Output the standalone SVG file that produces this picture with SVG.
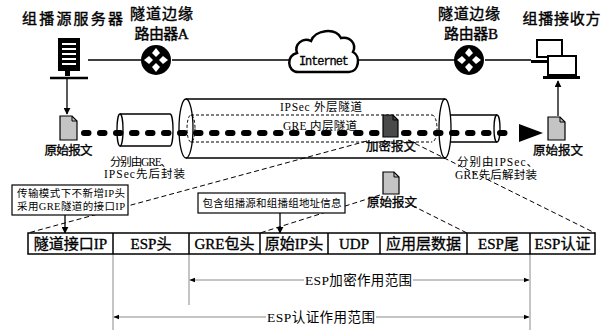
<svg xmlns="http://www.w3.org/2000/svg" width="602" height="330" viewBox="0 0 602 330">
  <defs>
    <style>
      .t { font-family: "Liberation Serif", "Noto Sans CJK SC", serif; fill: #000; }
      .hd { font-size: 15px; stroke: #000; stroke-width: 0.4; }
      .lb { font-size: 11.5px; }
      .doclb { font-size: 12.5px; stroke: #000; stroke-width: 0.35; }
      .cell { font-size: 15px; stroke: #000; stroke-width: 0.35; }
      .note { font-size: 10.5px; }
      .rng { font-size: 13.5px; }
      .mono { font-family: "Liberation Mono", monospace; font-size: 12px; fill: #000; stroke: #000; stroke-width: 0.3; }
      .ln { stroke: #000; stroke-width: 1.3; fill: none; }
      .guide { stroke: #000; stroke-width: 1; stroke-dasharray: 5 3; fill: none; }
      .tube { stroke: #000; stroke-width: 1.3; fill: none; }
      .inner { stroke: #000; stroke-width: 1; stroke-dasharray: 3 2; fill: none; }
      .doc { fill: #c4c4c4; stroke: #000; stroke-width: 1.2; }
      .docd { fill: #4a4a4a; stroke: #000; stroke-width: 1.2; }
      .box { fill: #fff; stroke: #000; stroke-width: 1.2; }
      .grey { stroke: #8a8a8a; stroke-width: 1; fill: none; }
    </style>
    <marker id="ah" viewBox="0 0 10 10" refX="9" refY="5" markerWidth="7" markerHeight="7" markerUnits="userSpaceOnUse" orient="auto">
      <path d="M0 0 L10 5 L0 10 Z" fill="#000"/>
    </marker>
    <marker id="ahs" viewBox="0 0 10 10" refX="9" refY="5" markerWidth="6" markerHeight="6" markerUnits="userSpaceOnUse" orient="auto-start-reverse">
      <path d="M0 1 L10 5 L0 9 Z" fill="#000"/>
    </marker>
    <g id="router">
      <circle r="15" fill="#000"/>
      <path d="M0 -12 L4 -7 L0 -3 L-4 -7 Z M0 12 L4 7 L0 3 L-4 7 Z M-12 0 L-7 4 L-3 0 L-7 -4 Z M12 0 L7 4 L3 0 L7 -4 Z" fill="#fff"/>
    </g>
  </defs>

  <rect width="602" height="330" fill="#fff"/>

  <!-- tunnels -->
  <g id="tunnels">
    <!-- GRE encapsulation segment, left -->
    <path class="tube" d="M120 114 H170 M120 146 H170 M170 114 A3 16 0 0 1 170 146"/>
    <ellipse class="tube" cx="120" cy="130" rx="3" ry="16" fill="#fff"/>
    <!-- IPSec outer tunnel -->
    <path class="tube" d="M186 99 H445 M186 158 H445"/>
    <ellipse class="tube" cx="186" cy="128.5" rx="7" ry="29.5"/>
    <ellipse class="tube" cx="445" cy="128.5" rx="6" ry="29.5"/>
    <!-- GRE inner tunnel -->
    <path class="inner" d="M191 115 H432 M191 142 H432 M432 115 A5 13.5 0 0 1 432 142"/>
    <ellipse class="inner" cx="191" cy="128.5" rx="4" ry="13.5"/>
    <!-- decapsulation segment, right -->
    <path class="tube" d="M450 115 H497 M450 142 H497"/>
    <ellipse class="tube" cx="497" cy="128.5" rx="3" ry="13.5"/>
    <text class="t lb" x="321" y="111" text-anchor="middle" textLength="82">IPSec 外层隧道</text>
    <text class="t lb" x="320" y="130" text-anchor="middle" textLength="74">GRE 内层隧道</text>
  </g>

  <!-- connectors -->
  <g id="connectors">
    <path class="ln" d="M88 60 H141 M172 60 H289 M358 60 H454 M485 60 H531"/>
    <path class="ln" d="M67 79 V114" marker-end="url(#ah)"/>
    <path class="ln" d="M558 116 V81" marker-end="url(#ah)"/>
    <!-- packet flow -->
    <path d="M84 133 H514" stroke="#000" stroke-width="6" stroke-dasharray="4.5 11.5" stroke-linecap="round" fill="none"/>
    <path d="M519 124 L543 133 L519 142 Z" fill="#000"/>
    <!-- guide lines to packet layout -->
    <path class="guide" d="M367 141 L28 233"/>
    <path class="guide" d="M408 140 L595 233"/>
    <path class="guide" d="M380 195 L260 233"/>
    <path class="guide" d="M405 202 L467 233"/>
    <path class="ln" d="M65 215 V233" marker-end="url(#ah)"/>
    <path class="ln" d="M280 213 V233" marker-end="url(#ah)"/>
    <!-- ranges -->
    <path class="grey" d="M189 254 V305 M113 254 V330 M530 254 V330"/>
    <path class="grey" d="M190 280 H529" marker-start="url(#ahs)" marker-end="url(#ahs)"/>
    <path class="grey" d="M114 317 H529" marker-start="url(#ahs)" marker-end="url(#ahs)"/>
  </g>

  <!-- multicast source server -->
  <g id="server">
    <rect x="58" y="38" width="22" height="33" fill="#000"/>
    <path d="M62 44 H76 M62 49 H76 M62 54 H76 M62 59 H76 M62 64 H76" stroke="#fff" stroke-width="2"/>
    <rect x="65" y="71" width="5" height="5" fill="#000"/>
    <path d="M50 78 H88" stroke="#000" stroke-width="2.5"/>
    <text class="t hd" x="72.5" y="24" text-anchor="middle" textLength="101">组播源服务器</text>
  </g>

  <g id="routerA">
    <use href="#router" x="156" y="60"/>
    <text class="t hd" x="161.5" y="19" text-anchor="middle" textLength="63">隧道边缘</text>
    <text class="t hd" x="161.5" y="39" text-anchor="middle" textLength="54">路由器A</text>
  </g>

  <g id="internet">
    <path d="M298 72 C287 72 286 55 297 53 C294 44 303 37 311 41 C315 30 335 27 341 38 C350 36 357 44 353 52 C361 56 359 72 349 72 Z" fill="#fff" stroke="#000" stroke-width="2.5"/>
    <text class="mono" x="324" y="65" text-anchor="middle" textLength="50">Internet</text>
  </g>

  <g id="routerB">
    <use href="#router" x="469" y="60"/>
    <text class="t hd" x="469" y="19" text-anchor="middle" textLength="62">隧道边缘</text>
    <text class="t hd" x="471" y="39" text-anchor="middle" textLength="54">路由器B</text>
  </g>

  <g id="receiver">
    <rect x="537" y="40" width="25" height="17" fill="#fff" stroke="#000" stroke-width="2"/>
    <rect x="531" y="60" width="17" height="3" fill="#000"/>
    <rect x="548" y="56" width="28" height="19" fill="#fff" stroke="#000" stroke-width="2"/>
    <rect x="543" y="76" width="37" height="3" fill="#000"/>
    <text class="t hd" x="561.5" y="24" text-anchor="middle" textLength="78">组播接收方</text>
  </g>

  <g id="srcPacket">
    <path class="doc" d="M60 116 H72 L77 121 V140 H60 Z"/>
    <path d="M72 116 V121 H77" fill="none" stroke="#000" stroke-width="1"/>
    <text class="t doclb" x="68.5" y="155" text-anchor="middle" textLength="48">原始报文</text>
  </g>

  <g id="encPacket">
    <path class="docd" d="M383 115 H393 L398 120 V137 H383 Z"/>
    <path d="M393 115 V120 H398" fill="none" stroke="#000" stroke-width="1"/>
    <text class="t doclb" x="391" y="151" text-anchor="middle" textLength="50">加密报文</text>
  </g>

  <g id="dstPacket">
    <path class="doc" d="M548 117 H560 L565 122 V140 H548 Z"/>
    <path d="M560 117 V122 H565" fill="none" stroke="#000" stroke-width="1"/>
    <text class="t doclb" x="558" y="155" text-anchor="middle" textLength="50">原始报文</text>
  </g>

  <g id="innerPacket">
    <path class="doc" d="M383 172 H394 L399 177 V194 H383 Z"/>
    <path d="M394 172 V177 H399" fill="none" stroke="#000" stroke-width="1"/>
    <text class="t doclb" x="392" y="207" text-anchor="middle" textLength="50">原始报文</text>
  </g>

  <g id="encapNote">
    <text class="t lb" x="141" y="166" text-anchor="middle" textLength="62">分别由GRE、</text>
    <text class="t lb" x="144.5" y="178" text-anchor="middle" textLength="81">IPSec先后封装</text>
  </g>

  <g id="decapNote">
    <text class="t lb" x="457" y="166" textLength="81">分别由IPSec、</text>
    <text class="t lb" x="455" y="179" textLength="82">GRE先后解封装</text>
  </g>

  <g id="ipNote">
    <rect class="box" x="12" y="185" width="116" height="30"/>
    <text class="t note" x="71" y="196.5" text-anchor="middle" textLength="108">传输模式下不新增IP头</text>
    <text class="t note" x="71" y="209.5" text-anchor="middle" textLength="108">采用GRE隧道的接口IP</text>
  </g>

  <g id="groupNote">
    <rect class="box" x="198" y="193" width="147" height="20"/>
    <text class="t note" x="272" y="207" text-anchor="middle" textLength="139">包含组播源和组播组地址信息</text>
  </g>

  <g id="packetLayout">
    <rect x="28" y="233" width="567" height="21" fill="#fff" stroke="#000" stroke-width="1.5"/>
    <path d="M113 233 V254 M189 233 V254 M260 233 V254 M328 233 V254 M380 233 V254 M467 233 V254 M530 233 V254" stroke="#000" stroke-width="1.5"/>
    <text class="t cell" x="70.5" y="249" text-anchor="middle">隧道接口IP</text>
    <text class="t cell" x="151" y="249" text-anchor="middle">ESP头</text>
    <text class="t cell" x="224.5" y="249" text-anchor="middle">GRE包头</text>
    <text class="t cell" x="294" y="249" text-anchor="middle">原始IP头</text>
    <text class="t cell" x="354" y="249" text-anchor="middle">UDP</text>
    <text class="t cell" x="423.5" y="249" text-anchor="middle">应用层数据</text>
    <text class="t cell" x="498.5" y="249" text-anchor="middle">ESP尾</text>
    <text class="t cell" x="562.5" y="249" text-anchor="middle">ESP认证</text>
  </g>

  <g id="ranges">
    <rect x="304" y="271" width="109" height="18" fill="#fff"/>
    <text class="t rng" x="358.5" y="285" text-anchor="middle" textLength="107">ESP加密作用范围</text>
    <rect x="266" y="308" width="110" height="18" fill="#fff"/>
    <text class="t rng" x="321" y="322" text-anchor="middle" textLength="108">ESP认证作用范围</text>
  </g>
</svg>
